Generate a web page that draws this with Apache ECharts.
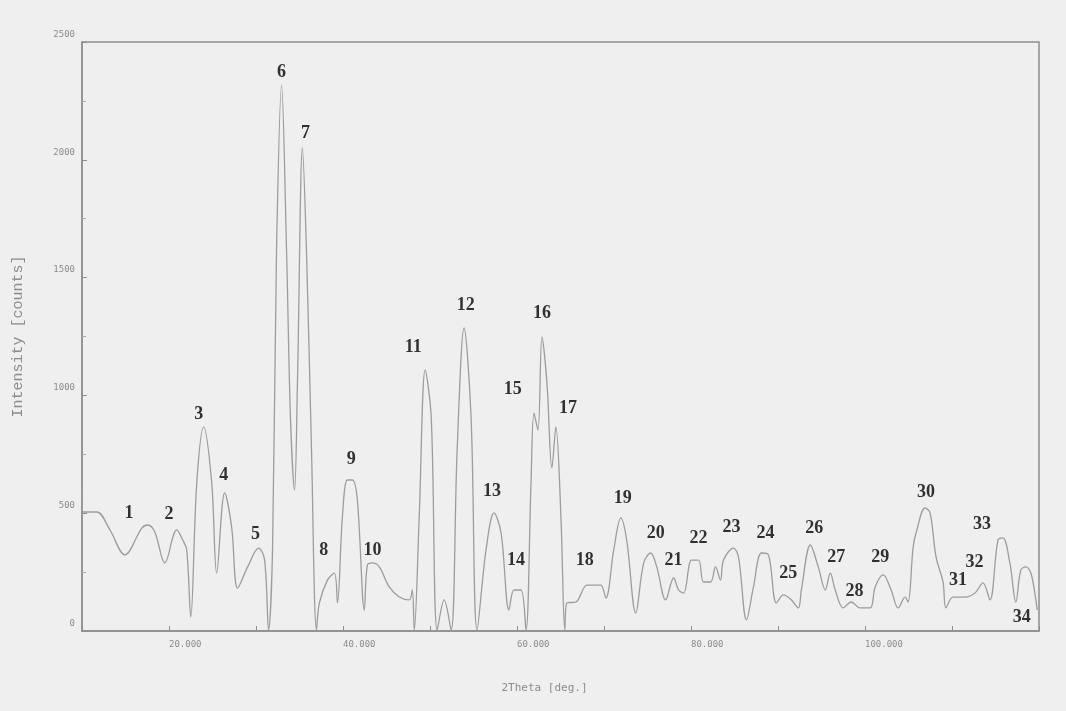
<!DOCTYPE html>
<html>
<head>
<meta charset="utf-8">
<script src="https://cdn.jsdelivr.net/npm/echarts@6/dist/echarts.min.js"></script>
<style>
  html, body { margin: 0; padding: 0; background: #efefef; }
  #chart { width: 1066px; height: 711px; }
</style>
</head>
<body>
<div id="chart"></div>
<script>
const theta = [
  10.0, 10.11, 10.57, 11.72, 13.21, 14.93, 16.88, 17.57, 18.37, 19.52,
  20.89, 21.58, 22.04, 22.50, 23.19, 23.99, 24.91, 25.48, 26.40, 27.20,
  27.89, 29.04, 30.30, 30.99, 31.44, 31.90, 32.36, 32.94, 33.51, 33.97,
  34.43, 34.77, 35.34, 35.80, 36.38, 36.95, 37.29, 38.21, 39.01, 39.36,
  39.93, 40.50, 41.08, 41.65, 42.45, 42.80, 43.37, 44.17, 45.32, 46.47,
  47.61, 47.96, 48.19, 48.76, 49.45, 50.14, 50.83, 51.63, 52.43, 53.12,
  53.92, 54.72, 55.41, 56.44, 57.36, 58.17, 59.08, 59.66, 60.46, 61.03,
  61.61, 61.95, 62.41, 62.87, 63.44, 64.01, 64.47, 65.05, 65.50, 65.73,
  66.77, 68.03, 68.83, 69.63, 70.21, 71.12, 71.93, 72.61, 73.65, 74.56,
  75.37, 76.06, 77.09, 78.00, 78.58, 79.15, 80.07, 80.87, 81.44, 82.25,
  82.82, 83.39, 83.74, 84.89, 85.46, 86.38, 87.18, 88.10, 88.90, 89.82,
  90.62, 91.54, 92.34, 92.68, 93.72, 94.63, 95.44, 96.01, 96.58, 97.50,
  98.42, 99.45, 100.60, 101.17, 102.09, 103.00, 103.81, 104.61, 104.95, 105.53,
  105.87, 106.90, 107.48, 108.17, 108.97, 109.31, 110.11, 111.49, 112.64, 113.56,
  114.36, 115.28, 115.85, 116.65, 117.34, 117.91, 118.49, 119.06, 119.52, 119.8
];
const counts = [
  620, 505, 505, 505, 429, 323, 437, 450, 420, 289,
  429, 386, 344, 59, 628, 866, 628, 246, 586, 441,
  182, 272, 352, 301, 4, 344, 1617, 2317, 1617, 895,
  598, 1065, 2050, 1617, 768, 4, 119, 216, 246, 119,
  484, 641, 641, 556, 89, 280, 289, 272, 187, 144,
  132, 174, 4, 484, 1108, 908, 4, 132, 4, 768,
  1286, 908, 4, 344, 501, 416, 89, 174, 174, 4,
  628, 925, 853, 1248, 1053, 692, 866, 484, 4, 119,
  123, 195, 195, 195, 140, 344, 480, 386, 76, 289,
  331, 272, 132, 225, 174, 161, 301, 301, 208, 208,
  272, 216, 301, 352, 314, 47, 187, 331, 323, 119,
  153, 132, 98, 174, 365, 272, 174, 246, 174, 98,
  123, 98, 98, 187, 238, 174, 98, 144, 123, 356,
  416, 522, 501, 314, 208, 98, 144, 144, 161, 204,
  132, 386, 395, 289, 123, 259, 272, 246, 161, 89
];

// peak numbering written on the plot
const peakNumbers = [
  '1', '2', '3', '4', '5', '6', '7', '8', '9', '10',
  '11', '12', '13', '14', '15', '16', '17', '18', '19', '20',
  '21', '22', '23', '24', '25', '26', '27', '28', '29', '30',
  '31', '32', '33', '34'
];
const peakTheta = [
  15.39, 20.00, 23.42, 26.28, 29.95, 32.94, 35.69, 37.80, 40.96, 43.40,
  48.07, 54.10, 57.13, 59.89, 59.50, 62.87, 65.85, 67.80, 72.16, 75.94,
  78.00, 80.87, 84.66, 88.55, 91.19, 94.17, 96.70, 98.80, 101.74, 107.02,
  110.69, 112.60, 113.45, 118.03
];
const peakCounts = [
  501, 497, 920, 660, 412, 2372, 2113, 344, 730, 344,
  1206, 1384, 594, 301, 1027, 1350, 946, 301, 564, 416,
  301, 394, 441, 416, 246, 437, 314, 170, 314, 590,
  216, 293, 454, 59
];

const chart = echarts.init(document.getElementById('chart'));

const tickFont = { color: '#8c8c8c', fontFamily: 'DejaVu Sans Mono', fontSize: 9 };

chart.setOption({
  backgroundColor: '#efefef',
  animation: false,
  grid: {
    left: 82, right: 27, top: 42, bottom: 80,
    show: true, borderColor: '#8f8f8f', borderWidth: 1.5, backgroundColor: 'transparent'
  },
  xAxis: {
    type: 'value',
    min: 10, max: 120, interval: 10,
    name: '2Theta [deg.]',
    nameLocation: 'middle',
    nameGap: 52,
    nameTextStyle: { color: '#8c8c8c', fontFamily: 'DejaVu Sans Mono', fontSize: 11, padding: [0, 32, 0, 0] },
    axisLine: { lineStyle: { color: '#8f8f8f', width: 1.5 } },
    axisTick: { inside: true, length: 5, lineStyle: { color: '#8f8f8f' } },
    splitLine: { show: false },
    axisLabel: Object.assign({}, tickFont, {
      align: 'left', margin: 9,
      formatter: v => (v % 20 === 0 && v < 120 ? v.toFixed(3) : '')
    })
  },
  yAxis: {
    type: 'value',
    min: 0, max: 2500, interval: 500,
    name: 'Intensity [counts]',
    nameLocation: 'middle',
    nameGap: 56,
    nameTextStyle: { color: '#8c8c8c', fontFamily: 'Liberation Mono', fontSize: 15 },
    axisLine: { show: true, lineStyle: { color: '#8f8f8f', width: 1.5 } },
    axisTick: { show: true, inside: true, length: 5, lineStyle: { color: '#8f8f8f' } },
    minorTick: { show: true, splitNumber: 2, length: 4, lineStyle: { color: '#a8a8a8' } },
    splitLine: { show: false },
    axisLabel: Object.assign({}, tickFont, {
      margin: 7, verticalAlign: 'bottom', padding: [0, 0, 3, 0],
      formatter: v => String(v)
    })
  },
  series: [
    {
      type: 'line',
      data: theta.map((t, i) => [t, counts[i]]),
      showSymbol: false,
      smooth: 0.35,
      lineStyle: { color: '#9c9c9c', width: 1.3 },
      z: 2
    },
    {
      type: 'scatter',
      data: peakNumbers.map((n, i) => ({ name: n, value: [peakTheta[i], peakCounts[i]] })),
      symbolSize: 0,
      label: {
        show: true,
        position: 'inside',
        formatter: p => p.name,
        color: '#000',
        fontFamily: 'Liberation Serif',
        fontWeight: 'bold',
        fontSize: 18
      },
      z: 5
    }
  ]
});
</script>
</body>
</html>
